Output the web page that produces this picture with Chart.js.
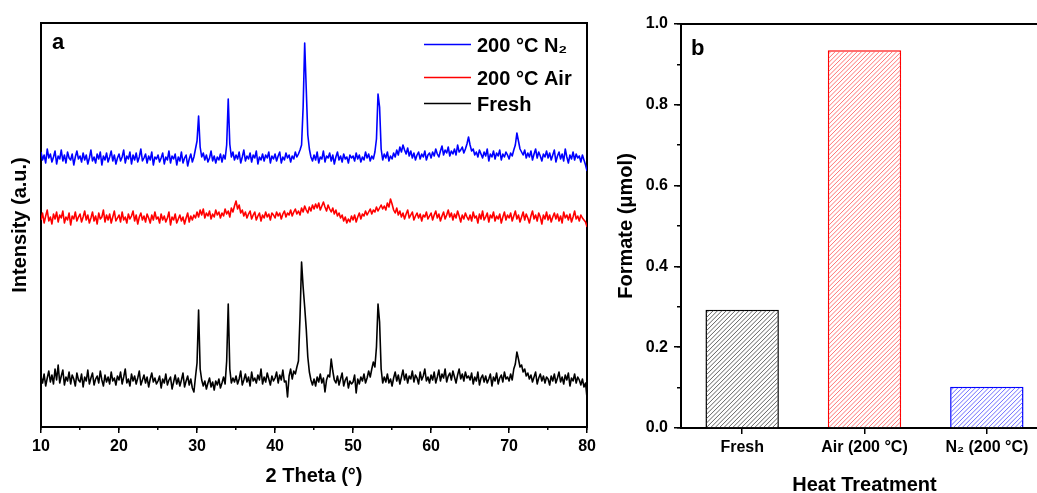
<!DOCTYPE html>
<html>
<head>
<meta charset="utf-8">
<script src="https://cdn.jsdelivr.net/npm/chart.js@4.4.1/dist/chart.umd.min.js"></script>
<style>
  html, body { margin: 0; padding: 0; background: #fff; overflow: hidden; width: 1037px; height: 493px; }
  #panelA { position: absolute; left: 0; top: 0; }
  #panelB { position: absolute; left: 600px; top: 0; }
</style>
</head>
<body>
<canvas id="panelA" width="600" height="500"></canvas>
<canvas id="panelB" width="460" height="500"></canvas>
<script>
// ---------- (a) XRD patterns: step scan 10–80° 2θ, 0.2° step ----------
const TWO_THETA_START = 10;
const TWO_THETA_STEP = 0.2;

// Fresh catalyst, counts (a.u.), 10.0° … 80.0°
const freshCounts = [
  50,44,53,41,49,56,45,52,43,58,47,62,44,51,57,42,50,46,55,43,52,48,41,54,47,
  45,53,40,50,46,57,43,49,54,42,48,51,44,56,47,41,52,45,50,43,55,46,49,42,51,
  47,55,43,50,58,44,48,41,53,46,51,43,49,56,42,47,52,44,50,40,48,54,45,49,43,
  46,51,39,48,44,53,42,47,50,38,45,52,43,49,41,47,54,40,46,51,42,48,39,35,50,
  64,117,58,47,41,46,38,44,49,40,45,37,46,42,48,39,44,50,43,66,123,58,44,49,45,
  51,43,48,56,42,47,53,45,50,41,55,46,49,44,52,47,58,43,50,45,54,48,42,51,46,
  49,55,44,52,47,57,45,46,30,51,58,48,56,53,60,66,110,165,140,120,98,70,55,47,42,
  48,41,50,45,53,44,49,35,47,52,50,68,56,47,44,51,42,48,54,41,47,50,39,46,43,
  45,52,34,48,43,50,46,53,44,49,56,50,58,65,60,80,123,105,58,44,50,45,53,44,48,
  41,49,55,46,52,43,50,57,47,53,44,51,48,56,45,52,49,43,55,47,51,58,46,50,44,
  52,47,55,44,50,57,46,53,49,58,45,51,54,47,56,50,44,52,58,48,53,46,55,49,51,
  47,54,43,50,46,55,42,49,52,45,51,44,48,53,41,50,46,54,43,49,52,45,55,48,50,
  46,53,47,58,63,75,68,60,62,55,58,51,54,48,52,45,50,55,43,49,53,46,51,44,50,
  48,42,51,46,53,44,49,55,45,50,43,52,47,54,41,49,46,53,44,50,47,42,48,40,44,
  28
];

// Heated in air at 200 °C
const airCounts = [
  47,54,44,51,57,46,50,43,53,48,55,45,52,49,56,44,50,47,54,42,51,48,55,46,50,
  53,45,50,56,47,52,44,49,55,46,51,43,54,48,50,57,45,52,47,53,44,50,56,46,49,
  52,45,55,47,50,44,53,48,51,56,46,52,43,50,54,47,51,45,53,49,44,52,47,55,48,
  50,44,53,47,51,45,49,55,42,50,47,53,44,48,52,46,50,43,49,54,45,51,47,52,49,
  55,50,57,52,58,49,54,51,56,48,53,50,57,52,55,49,54,51,58,53,56,50,59,55,61,
  66,58,62,54,57,51,55,49,53,56,48,52,55,47,51,54,46,52,49,55,50,53,47,54,52,
  49,55,51,54,48,53,56,50,54,52,57,51,55,58,53,56,52,59,55,61,57,54,60,56,62,
  58,63,59,64,57,61,65,60,56,62,58,55,59,53,57,51,54,49,52,46,50,44,48,45,51,
  47,52,45,50,54,48,53,51,56,52,55,58,53,57,55,60,56,59,62,58,61,57,64,60,68,
  63,57,54,59,52,56,50,54,48,53,57,49,52,55,47,51,54,49,53,46,52,50,55,48,51,
  54,47,52,56,49,53,46,51,55,48,52,57,50,54,47,53,49,56,51,45,52,48,54,50,47,
  52,46,55,49,51,44,53,48,56,47,50,54,45,52,49,55,46,51,48,53,44,50,55,47,52,
  49,54,46,51,56,48,52,45,50,55,47,53,49,44,51,56,48,52,46,54,50,43,52,48,55,
  47,52,45,50,54,48,53,46,51,44,55,49,52,47,53,45,50,56,48,51,46,52,49,47,45,
  40
];

// Heated in N2 at 200 °C
const n2Counts = [
  55,47,52,44,58,49,53,45,50,56,43,51,48,57,46,52,44,55,49,47,53,42,50,56,48,
  51,45,54,47,52,43,49,57,46,50,44,53,48,55,42,51,47,54,45,50,56,46,52,43,49,
  53,46,50,57,44,51,48,55,43,52,47,54,45,50,58,46,49,53,44,51,47,55,42,50,48,
  52,45,49,54,43,50,47,56,44,51,48,53,42,50,46,55,44,49,52,41,48,53,45,50,58,
  66,91,60,50,54,47,52,45,49,56,46,51,44,50,47,53,45,52,48,62,108,63,50,55,47,
  52,48,55,44,50,57,46,51,48,54,45,52,49,56,43,50,47,53,46,52,49,55,44,51,48,
  53,46,51,55,44,50,47,54,49,52,45,51,48,55,50,53,57,62,100,164,118,72,58,50,46,
  52,47,55,44,50,48,56,45,51,49,54,46,52,43,50,55,47,51,45,53,48,50,44,52,49,
  51,46,54,48,52,45,50,47,55,49,53,46,51,48,55,68,113,100,58,47,53,49,55,46,51,
  48,54,50,57,52,60,55,62,57,53,59,51,56,49,54,47,52,55,48,53,50,56,47,52,54,
  49,55,51,58,53,50,56,61,52,57,54,60,51,56,53,58,52,62,55,57,60,54,58,63,70,
  62,56,58,52,55,50,57,53,49,55,51,58,46,53,50,56,48,54,51,57,47,53,50,55,52,
  48,54,51,57,62,74,66,58,55,52,57,49,54,50,56,47,53,58,49,55,51,46,53,50,56,
  49,54,47,52,57,45,51,55,48,53,46,58,50,44,52,48,55,47,53,49,51,45,52,47,42,
  36
];

// vertical stacking of the three patterns (a.u.)
const stackOffset = { fresh: 0, air: 160, n2: 220 };

// ---------- (b) formate produced ----------
const treatments = ['Fresh', 'Air (200 °C)', 'N₂ (200 °C)'];
const formateUmol = [0.293, 0.935, 0.102];

// ---------- shared styling ----------
const FONT = '"Liberation Sans", Arial, Helvetica, sans-serif';
Chart.defaults.font.family = FONT;
Chart.defaults.color = '#000';

function toPoints(counts, offset) {
  return counts.map((c, i) => ({ x: TWO_THETA_START + i * TWO_THETA_STEP, y: c + offset }));
}

// panel letter and (optional) hand-placed legend
const panelDecor = {
  id: 'panelDecor',
  afterDraw(chart, args, o) {
    const ctx = chart.ctx;
    ctx.save();
    ctx.fillStyle = '#000';
    ctx.textAlign = 'left';
    ctx.textBaseline = 'alphabetic';
    ctx.font = `bold ${o.letterSize}px ${FONT}`;
    ctx.fillText(o.letter, o.letterX, o.letterY);
    if (o.legend) {
      const L = o.legend;
      ctx.font = `bold ${L.fontSize}px ${FONT}`;
      L.order.forEach((dsIndex, row) => {
        const ds = chart.data.datasets[dsIndex];
        const base = L.baselines[row];
        ctx.strokeStyle = ds.borderColor;
        ctx.lineWidth = 1.5;
        ctx.beginPath();
        ctx.moveTo(L.lineX0, base - L.lineRise);
        ctx.lineTo(L.lineX1, base - L.lineRise);
        ctx.stroke();
        ctx.fillText(ds.label, L.textX, base);
      });
    }
    ctx.restore();
  }
};

// diagonal "/" hatching inside each bar, clipped to the bar drawn by the library
const barHatch = {
  id: 'barHatch',
  afterDatasetsDraw(chart, args, o) {
    const ctx = chart.ctx;
    chart.getDatasetMeta(0).data.forEach((bar, i) => {
      const { x, y, base, width } = bar.getProps(['x', 'y', 'base', 'width'], true);
      const left = x - width / 2, right = x + width / 2;
      const top = Math.min(y, base), bottom = Math.max(y, base);
      const h = bottom - top;
      ctx.save();
      ctx.beginPath();
      ctx.rect(left + 1, top + 1, width - 2, h - 1);
      ctx.clip();
      ctx.strokeStyle = o.colors[i];
      ctx.lineWidth = o.lineWidth;
      ctx.beginPath();
      for (let s = left - h; s < right + o.spacing; s += o.spacing) {
        ctx.moveTo(s, bottom);
        ctx.lineTo(s + h, top);
      }
      ctx.stroke();
      ctx.restore();
    });
  }
};

const tickFont = { size: 16, weight: 'bold' };
const titleFont = { size: 20, weight: 'bold' };
const frameBorder = { display: true, color: '#000', width: 2 };

// ---------- chart (a) ----------
new Chart(document.getElementById('panelA'), {
  type: 'line',
  data: {
    datasets: [
      { label: 'Fresh', data: toPoints(freshCounts, stackOffset.fresh), borderColor: '#000000' },
      { label: '200 °C Air', data: toPoints(airCounts, stackOffset.air), borderColor: '#ff0000' },
      { label: '200 °C N₂', data: toPoints(n2Counts, stackOffset.n2), borderColor: '#0000ff' }
    ]
  },
  options: {
    responsive: false,
    animation: false,
    elements: {
      line: { borderWidth: 1.6, tension: 0, fill: false, borderJoinStyle: 'round' },
      point: { radius: 0, hoverRadius: 0 }
    },
    layout: { padding: 0 },
    plugins: {
      legend: { display: false },
      tooltip: { enabled: false },
      panelDecor: {
        letter: 'a', letterSize: 22, letterX: 52, letterY: 49,
        legend: {
          fontSize: 20, order: [2, 1, 0], baselines: [52, 85, 111],
          lineX0: 424, lineX1: 471, lineRise: 7.5, textX: 477
        }
      }
    },
    scales: {
      x: {
        type: 'linear', position: 'bottom', min: 10, max: 80,
        ticks: { stepSize: 10, font: tickFont, padding: 4, maxRotation: 0, autoSkip: false },
        grid: { display: true, drawOnChartArea: false, drawTicks: true, tickLength: 6, color: '#000', lineWidth: 1.5 },
        border: frameBorder,
        title: { display: true, text: '2 Theta (°)', font: titleFont, padding: { top: 0, bottom: 12 } },
        afterFit(s) { s.height = 73; }
      },
      xMinor: {
        type: 'linear', axis: 'x', position: { y: 0 }, min: 10, max: 80,
        ticks: { display: false, stepSize: 5 },
        grid: { display: true, drawOnChartArea: false, drawTicks: true, tickLength: 3, color: '#000', lineWidth: 1.5 },
        border: { display: false }
      },
      xTop: {
        type: 'linear', position: 'top', min: 10, max: 80,
        ticks: { display: false }, grid: { display: false }, border: frameBorder,
        afterFit(s) { s.height = 23; }
      },
      y: {
        type: 'linear', position: 'left', min: 0, max: 404,
        ticks: { display: false }, grid: { display: false }, border: frameBorder,
        title: { display: true, text: 'Intensity (a.u.)', font: titleFont, padding: { top: 8, bottom: 0 } },
        afterFit(s) { s.width = 41; }
      },
      yRight: {
        type: 'linear', position: 'right', min: 0, max: 404,
        ticks: { display: false }, grid: { display: false }, border: frameBorder,
        afterFit(s) { s.width = 12; }
      }
    }
  },
  plugins: [panelDecor]
});

// ---------- chart (b) ----------
const barEdges = ['#000000', '#ff0000', '#0000ff'];
const barHatchLines = ['#505050', '#ff6464', '#5c5cff'];

new Chart(document.getElementById('panelB'), {
  type: 'bar',
  data: {
    labels: treatments,
    datasets: [{
      label: 'Formate',
      data: formateUmol,
      backgroundColor: '#ffffff',
      borderColor: barEdges,
      borderWidth: 1.5,
      barPercentage: 0.6,
      categoryPercentage: 1.0
    }]
  },
  options: {
    responsive: false,
    animation: false,
    layout: { padding: { right: 12, left: 0, top: 0, bottom: 0 } },
    plugins: {
      legend: { display: false },
      tooltip: { enabled: false },
      colors: { enabled: false },
      barHatch: { colors: barHatchLines, spacing: 4.4, lineWidth: 0.9 },
      panelDecor: { letter: 'b', letterSize: 22, letterX: 91, letterY: 55 }
    },
    scales: {
      x: {
        type: 'category', position: 'bottom', offset: true,
        ticks: { font: tickFont, padding: 4, maxRotation: 0, autoSkip: false },
        grid: { display: true, offset: false, drawOnChartArea: false, drawTicks: true, tickLength: 6, color: '#000', lineWidth: 1.5 },
        border: frameBorder,
        title: { display: true, text: 'Heat Treatment', font: titleFont, padding: { top: 0, bottom: 3 } },
        afterFit(s) { s.height = 72; }
      },
      xTop: {
        type: 'category', position: 'top', offset: true,
        ticks: { display: false }, grid: { display: false }, border: frameBorder,
        afterFit(s) { s.height = 24; }
      },
      y: {
        type: 'linear', position: 'left', min: 0, max: 1,
        ticks: { stepSize: 0.2, font: tickFont, padding: 6, callback: v => v.toFixed(1) },
        grid: { display: true, drawOnChartArea: false, drawTicks: true, tickLength: 7, color: '#000', lineWidth: 1.5 },
        border: frameBorder,
        title: { display: true, text: 'Formate (μmol)', font: titleFont, padding: { top: 14, bottom: 0 } },
        afterFit(s) { s.width = 81; }
      },
      yMinor: {
        type: 'linear', axis: 'y', position: { x: -0.5 }, min: 0, max: 1,
        ticks: { display: false, stepSize: 0.1 },
        grid: { display: true, drawOnChartArea: false, drawTicks: true, tickLength: 4, color: '#000', lineWidth: 1.5 },
        border: { display: false }
      }
    }
  },
  plugins: [barHatch, panelDecor]
});
</script>
</body>
</html>
